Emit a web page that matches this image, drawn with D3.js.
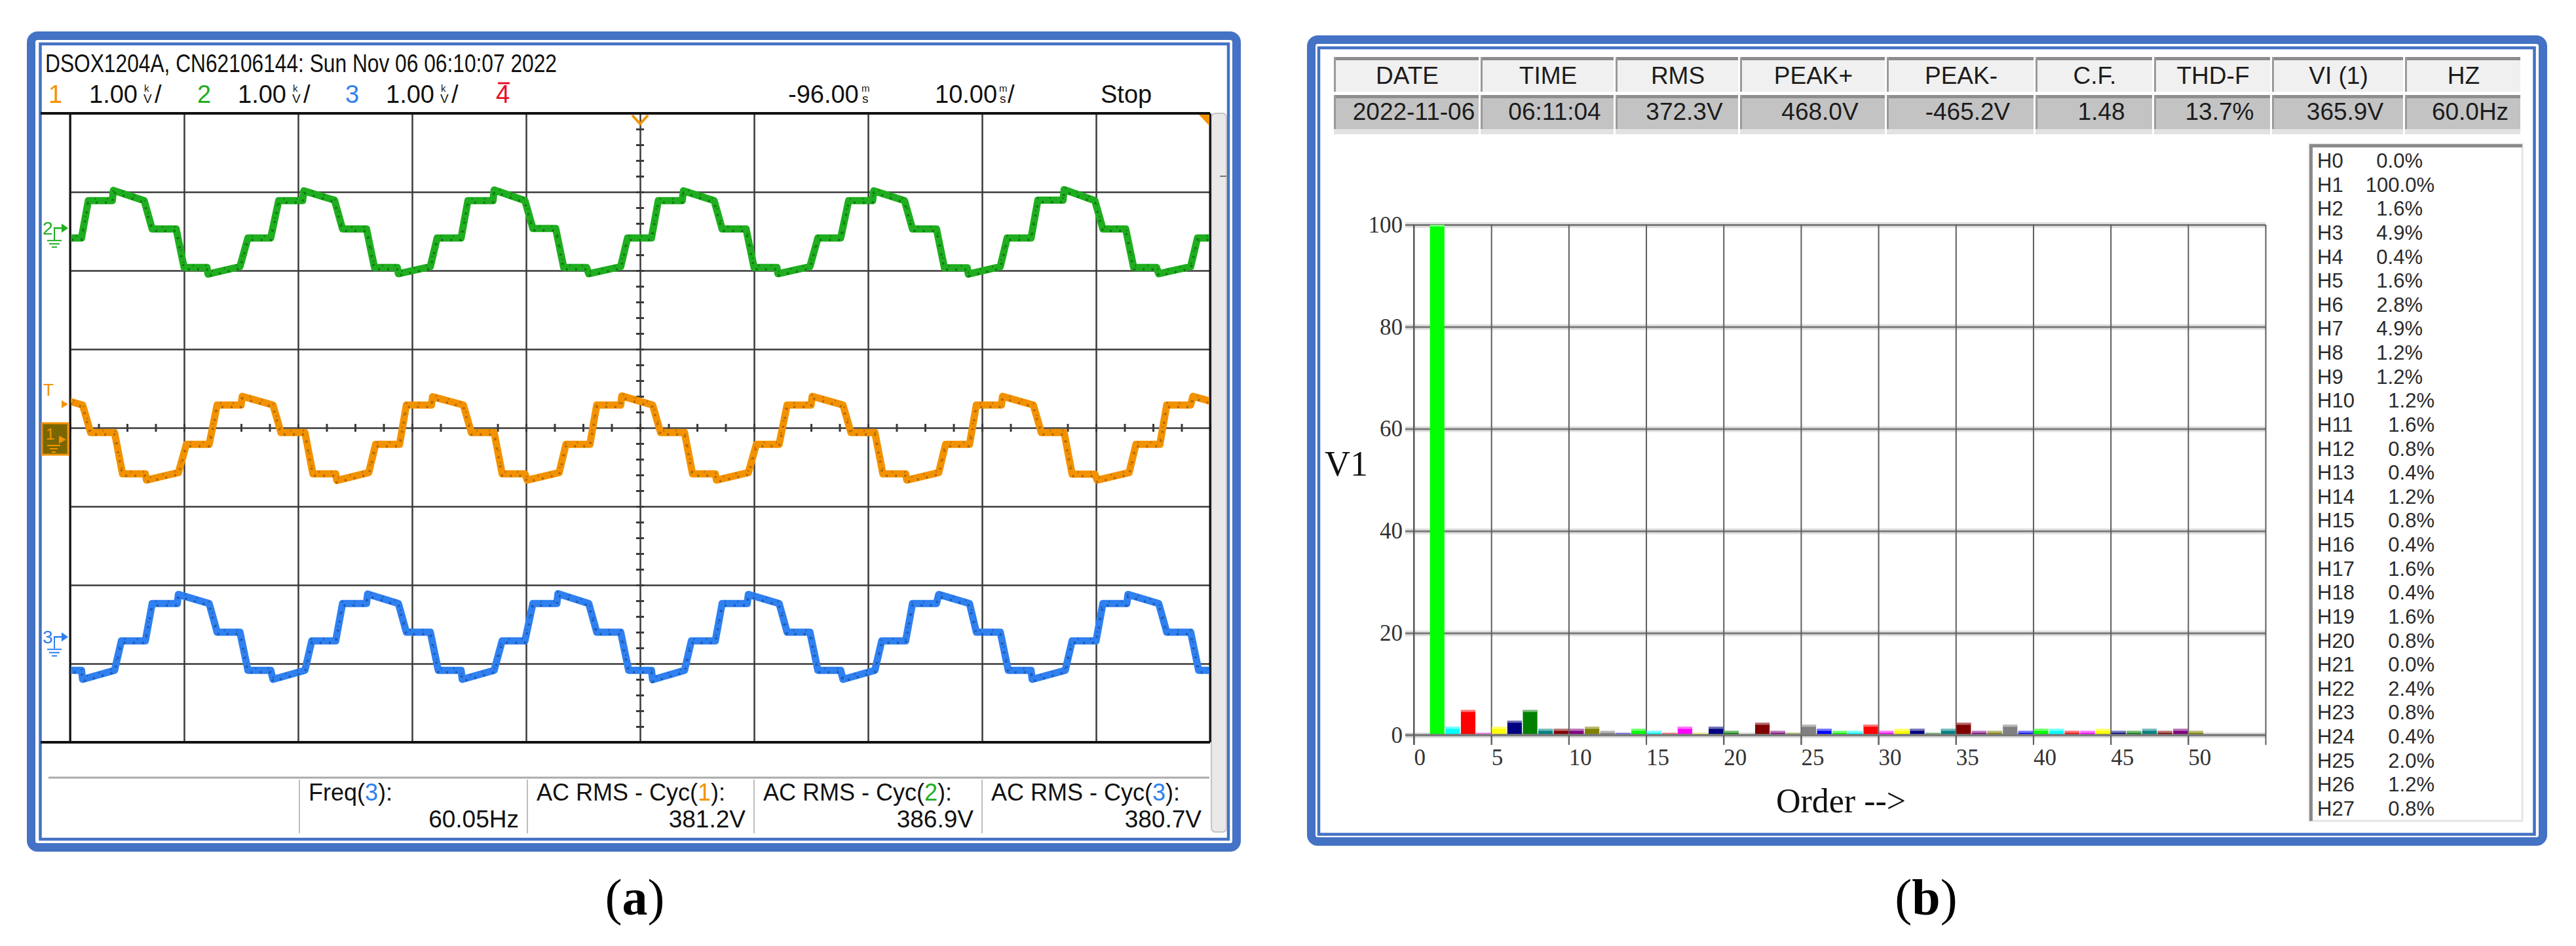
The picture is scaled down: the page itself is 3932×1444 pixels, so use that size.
<!DOCTYPE html>
<html><head><meta charset="utf-8">
<script src="https://cdn.jsdelivr.net/npm/d3@7"></script>
<style>
body{margin:0;background:#fff}
svg{display:block;font-family:"Liberation Sans",Arial,sans-serif}
</style>
</head><body>
<svg id="c" width="3932" height="1444" font-family="Liberation Sans, Arial, sans-serif"></svg>
<script>
// ---------------- DATA ----------------
const scopeTitle = "DSOX1204A, CN62106144: Sun Nov 06 06:10:07 2022";
const channelIds = ["1", "2", "3"];
const channelScales = ["1.00", "1.00", "1.00"];
const timeOffsetLabel = "-96.00";
const timeScaleLabel = "10.00";
const runStateLabel = "Stop";
const measNames = [["Freq(", "3", "):"], ["AC RMS - Cyc(", "1", "):"], ["AC RMS - Cyc(", "2", "):"], ["AC RMS - Cyc(", "3", "):"]];
const measValues = ["60.05Hz", "381.2V", "386.9V", "380.7V"];
// time window of the scope screen (ms) and vertical range (V, 1 kV/div)
const timeWindow = [-146, -46];
const voltWindow = [-4000, 4000];
// channel display offsets (V)
const ch1Offset = -150, ch2Offset = 2540, ch3Offset = -2660;
// traces [time ms, volts]
const ch2Trace = [
 [-161.7,-125],[-161.1,350],[-158.9,350],[-158.8,475],[-156.1,350],[-155.4,-10],[-153.4,-10],[-152.7,-500],[-150.7,-500],[-150.5,-580],[-147.7,-490],[-147.1,-125],
 [-145.0,-125],[-144.4,350],[-142.3,350],[-142.2,480],[-139.5,350],[-138.8,-10],[-136.7,-10],[-136.0,-500],[-134.0,-500],[-133.9,-585],[-131.1,-490],[-130.4,-125],
 [-128.4,-125],[-127.7,350],[-125.6,350],[-125.5,475],[-122.8,355],[-122.1,-10],[-120.0,-10],[-119.3,-500],[-117.3,-500],[-117.2,-580],[-114.4,-490],[-113.8,-125],
 [-111.7,-125],[-111.1,350],[-108.9,350],[-108.8,485],[-106.1,350],[-105.4,-5],[-103.4,-5],[-102.7,-500],[-100.7,-500],[-100.5,-580],[-97.7,-490],[-97.1,-125],
 [-95.0,-125],[-94.4,350],[-92.3,350],[-92.2,475],[-89.5,350],[-88.8,-10],[-86.7,-10],[-86.0,-500],[-84.0,-500],[-83.9,-580],[-81.1,-490],[-80.4,-125],
 [-78.4,-125],[-77.7,350],[-75.6,350],[-75.5,475],[-72.8,350],[-72.1,-10],[-70.0,-10],[-69.3,-505],[-67.3,-505],[-67.2,-585],[-64.4,-490],[-63.8,-125],
 [-61.7,-125],[-61.1,355],[-58.9,355],[-58.8,490],[-56.1,350],[-55.4,-10],[-53.4,-10],[-52.7,-500],[-50.7,-500],[-50.5,-580],[-47.7,-490],[-47.1,-125],
 [-45.0,-125],[-44.4,350]
];
const ch1Trace = [
 [-150.4,-60],[-149.8,440],[-147.7,440],[-147.6,550],[-144.9,440],[-144.2,90],[-142.1,90],[-141.4,-435],[-139.4,-435],[-139.3,-515],[-136.5,-420],[-135.8,-60],
 [-133.8,-60],[-133.1,440],[-131.0,440],[-130.9,550],[-128.2,440],[-127.5,90],[-125.4,90],[-124.7,-435],[-122.7,-435],[-122.6,-520],[-119.8,-420],[-119.2,-60],
 [-117.1,-60],[-116.5,440],[-114.3,440],[-114.2,545],[-111.5,440],[-110.8,90],[-108.8,90],[-108.1,-435],[-106.1,-435],[-105.9,-515],[-103.1,-420],[-102.5,-60],
 [-100.4,-60],[-99.8,440],[-97.7,440],[-97.6,555],[-94.9,440],[-94.2,90],[-92.1,90],[-91.4,-435],[-89.4,-435],[-89.3,-515],[-86.5,-420],[-85.8,-60],
 [-83.8,-60],[-83.1,440],[-81.0,440],[-80.9,550],[-78.2,440],[-77.5,90],[-75.4,90],[-74.7,-435],[-72.7,-435],[-72.6,-515],[-69.8,-420],[-69.2,-60],
 [-67.1,-60],[-66.5,440],[-64.3,440],[-64.2,550],[-61.5,440],[-60.8,90],[-58.8,90],[-58.1,-440],[-56.1,-440],[-55.9,-515],[-53.1,-420],[-52.5,-60],
 [-50.4,-60],[-49.8,440],[-47.7,440],[-47.5,550],[-44.8,440]
];
const ch3Trace = [
 [-156.1,-50],[-155.4,425],[-153.3,425],[-153.2,540],[-150.5,425],[-149.8,60],[-147.7,60],[-147.0,-425],[-145.0,-425],[-144.9,-540],[-142.1,-425],[-141.5,-50],
 [-139.4,-50],[-138.8,425],[-136.6,425],[-136.5,540],[-133.8,425],[-133.1,60],[-131.1,60],[-130.4,-425],[-128.4,-425],[-128.2,-540],[-125.4,-425],[-124.8,-50],
 [-122.7,-50],[-122.1,425],[-120.0,425],[-119.9,545],[-117.2,425],[-116.5,60],[-114.4,60],[-113.7,-425],[-111.7,-425],[-111.6,-540],[-108.8,-425],[-108.1,-50],
 [-106.1,-50],[-105.4,425],[-103.3,425],[-103.2,550],[-100.5,425],[-99.8,60],[-97.7,60],[-97.0,-425],[-95.0,-425],[-94.9,-545],[-92.1,-425],[-91.5,-50],
 [-89.4,-50],[-88.8,425],[-86.6,425],[-86.5,540],[-83.8,425],[-83.1,60],[-81.1,60],[-80.4,-425],[-78.4,-425],[-78.2,-540],[-75.4,-425],[-74.8,-50],
 [-72.7,-50],[-72.1,425],[-70.0,425],[-69.8,540],[-67.1,425],[-66.5,60],[-64.4,60],[-63.7,-425],[-61.7,-425],[-61.6,-540],[-58.7,-425],[-58.1,-50],
 [-56.0,-50],[-55.4,425],[-53.3,425],[-53.2,540],[-50.5,425],[-49.8,60],[-47.7,60],[-47.0,-425],[-45.0,-425],[-44.9,-540]
];
// analyser panel
const tableHeaders = ["DATE", "TIME", "RMS", "PEAK+", "PEAK-", "C.F.", "THD-F", "VI (1)", "HZ"];
const tableValues = ["2022-11-06", "06:11:04", "372.3V", "468.0V", "-465.2V", "1.48", "13.7%", "365.9V", "60.0Hz"];
// harmonic order 0..50, % of fundamental
const harmonicPct = [0.0, 100.0, 1.6, 4.9, 0.4, 1.6, 2.8, 4.9, 1.2, 1.2, 1.2, 1.6, 0.8, 0.4, 1.2, 0.8, 0.4, 1.6, 0.4, 1.6, 0.8, 0.0, 2.4, 0.8, 0.4, 2.0, 1.2, 0.8,
  0.8, 2.0, 0.8, 1.2, 1.2, 0.4, 1.2, 2.4, 0.8, 0.8, 2.0, 0.8, 1.2, 1.2, 0.8, 0.8, 1.2, 0.8, 0.8, 1.2, 0.8, 1.2, 0.8];
const harmonicListCount = 28;
const barPalette = ["#00ff00", "#00ffff", "#ff0000", "#ff00ff", "#ffff00", "#000080", "#008000", "#008080", "#800000", "#800080", "#808000", "#808080", "#0000ff"];
const yTicksB = [0, 20, 40, 60, 80, 100];
const xTicksB = [0, 5, 10, 15, 20, 25, 30, 35, 40, 45, 50, 55];
const yLabelB = "V1";
const xLabelB = "Order -->";
const captions = ["a", "b"];

// ---------------- DRAW ----------------
const SERIF = '"Liberation Serif", "Times New Roman", serif';
const SANS = '"Liberation Sans", Arial, sans-serif';
const svg = d3.select("#c");
svg.append("rect").attr("width", 3932).attr("height", 1444).attr("fill", "#fff");
const BLUE = "#4472c4";
function frame(ox, oy, ow, oh, ix, iy, iw, ih) {
  svg.append("rect").attr("x", ox).attr("y", oy).attr("width", ow).attr("height", oh)
    .attr("rx", 10).attr("fill", "#fff").attr("stroke", BLUE).attr("stroke-width", 13);
  svg.append("rect").attr("x", ix).attr("y", iy).attr("width", iw).attr("height", ih)
    .attr("fill", "none").attr("stroke", BLUE).attr("stroke-width", 4.5);
}
frame(47.5, 54.5, 1840, 1239, 61.5, 67, 1813.5, 1214);
frame(2001.5, 60.5, 1880, 1224, 2013, 73, 1855.5, 1200.5);

// ===== Panel (a): oscilloscope =====
const A = svg.append("g").style("font-family", SANS);
const xA = d3.scaleLinear().domain(timeWindow).range([107, 1847]);
const yA = d3.scaleLinear().domain(voltWindow).range([1133, 173]);
const ORANGE = "#f39200", GREEN = "#1fae1f", BLUEC = "#2f80f0", RED = "#e8102a";

// header
A.append("text").attr("x", 69).attr("y", 110).attr("font-size", 38).attr("fill", "#111")
  .attr("textLength", 781).attr("lengthAdjust", "spacingAndGlyphs").text(scopeTitle);
const chColors = [ORANGE, GREEN, BLUEC];
const chX = [74, 301, 527];
channelIds.forEach((id, i) => {
  const x0 = chX[i];
  A.append("text").attr("x", x0).attr("y", 157).attr("font-size", 38).attr("fill", chColors[i]).text(id);
  A.append("text").attr("x", x0 + 62).attr("y", 157).attr("font-size", 38).attr("fill", "#111").text(channelScales[i]);
  A.append("text").attr("x", x0 + 146).attr("y", 140).attr("font-size", 15).attr("fill", "#111").text("k");
  A.append("text").attr("x", x0 + 145).attr("y", 157).attr("font-size", 19).attr("fill", "#111").text("V");
  A.append("text").attr("x", x0 + 162).attr("y", 157).attr("font-size", 38).attr("fill", "#111").text("/");
});
A.append("text").attr("x", 757).attr("y", 157).attr("font-size", 38).attr("fill", RED).text("4");
A.append("line").attr("x1", 760).attr("x2", 778).attr("y1", 127).attr("y2", 127).attr("stroke", RED).attr("stroke-width", 3);
A.append("text").attr("x", 1203).attr("y", 157).attr("font-size", 38).attr("fill", "#111").text(timeOffsetLabel);
A.append("text").attr("x", 1315).attr("y", 140).attr("font-size", 15).attr("fill", "#111").text("m");
A.append("text").attr("x", 1316).attr("y", 157).attr("font-size", 19).attr("fill", "#111").text("s");
A.append("text").attr("x", 1427).attr("y", 157).attr("font-size", 38).attr("fill", "#111").text(timeScaleLabel);
A.append("text").attr("x", 1525).attr("y", 140).attr("font-size", 15).attr("fill", "#111").text("m");
A.append("text").attr("x", 1526).attr("y", 157).attr("font-size", 19).attr("fill", "#111").text("s");
A.append("text").attr("x", 1538).attr("y", 157).attr("font-size", 38).attr("fill", "#111").text("/");
A.append("text").attr("x", 1680).attr("y", 157).attr("font-size", 38).attr("fill", "#111").text(runStateLabel);

// scrollbar strip
A.append("rect").attr("x", 1849).attr("y", 173).attr("width", 23).attr("height", 1097).attr("rx", 6)
  .attr("fill", "#e9e9e9").attr("stroke", "#c4c4c4").attr("stroke-width", 2);
A.append("line").attr("x1", 1862).attr("x2", 1872).attr("y1", 269).attr("y2", 269).attr("stroke", "#777").attr("stroke-width", 2);

// graticule via axes
const gx = A.append("g").attr("transform", "translate(0,1133)")
  .call(d3.axisBottom(xA).tickValues(d3.range(timeWindow[0], timeWindow[1] + 1, 10)).tickSize(-960).tickFormat(""));
const gy = A.append("g").attr("transform", "translate(107,0)")
  .call(d3.axisLeft(yA).tickValues(d3.range(voltWindow[0], voltWindow[1] + 1, 1000)).tickSize(-1740).tickFormat(""));
[gx, gy].forEach(g => {
  g.select(".domain").remove();
  g.selectAll(".tick line").attr("stroke", "#3a3a3a").attr("stroke-width", 2.5);
});
// minor ticks on the centre cross
const cxv = xA(-96), cyv = yA(0);
A.append("g").attr("transform", `translate(${cxv},0)`)
  .call(d3.axisLeft(yA).tickValues(d3.range(voltWindow[0], voltWindow[1] + 1, 200)).tickSize(6).tickFormat(""))
  .call(g => { g.select(".domain").remove(); g.selectAll(".tick line").attr("stroke", "#3a3a3a").attr("stroke-width", 3).attr("x2", 6).attr("x1", -6); });
A.append("g").attr("transform", `translate(0,${cyv})`)
  .call(d3.axisBottom(xA).tickValues(d3.range(timeWindow[0], timeWindow[1] + 0.1, 2.5)).tickSize(6).tickFormat(""))
  .call(g => { g.select(".domain").remove(); g.selectAll(".tick line").attr("stroke", "#3a3a3a").attr("stroke-width", 3).attr("y1", -6).attr("y2", 6); });
// frame lines
A.append("line").attr("x1", 62).attr("x2", 1847).attr("y1", 173).attr("y2", 173).attr("stroke", "#111").attr("stroke-width", 4);
A.append("line").attr("x1", 62).attr("x2", 1847).attr("y1", 1133).attr("y2", 1133).attr("stroke", "#111").attr("stroke-width", 4);
A.append("line").attr("x1", 107).attr("x2", 107).attr("y1", 173).attr("y2", 1133).attr("stroke", "#111").attr("stroke-width", 3);
A.append("line").attr("x1", 1847).attr("x2", 1847).attr("y1", 173).attr("y2", 1133).attr("stroke", "#111").attr("stroke-width", 3);

// traces
svg.append("clipPath").attr("id", "scr").append("rect").attr("x", 108).attr("y", 175).attr("width", 1738).attr("height", 956);
const traces = [
  {d: ch2Trace, off: ch2Offset, c: GREEN, dk: "#0b6a0b"},
  {d: ch1Trace, off: ch1Offset, c: ORANGE, dk: "#a05c00"},
  {d: ch3Trace, off: ch3Offset, c: BLUEC, dk: "#1a4f9c"}
];
const TG = A.append("g").attr("clip-path", "url(#scr)");
traces.forEach(t => {
  const line = d3.line().x(d => xA(d[0])).y(d => yA(d[1] + t.off));
  TG.append("path").attr("d", line(t.d)).attr("fill", "none").attr("stroke", t.c)
    .attr("stroke-width", 11).attr("stroke-linejoin", "round");
  TG.append("path").attr("d", line(t.d)).attr("fill", "none").attr("stroke", t.dk)
    .attr("stroke-width", 3.5).attr("stroke-dasharray", "3 11").attr("transform", "translate(0,3)").attr("opacity", 0.8);
  TG.append("path").attr("d", line(t.d)).attr("fill", "none").attr("stroke", t.dk)
    .attr("stroke-width", 3).attr("stroke-dasharray", "2 17").attr("stroke-dashoffset", 7).attr("transform", "translate(0,-3)").attr("opacity", 0.6);
});

// trigger markers
A.append("polyline").attr("points", `${cxv - 12},176 ${cxv},189 ${cxv + 12},176`).attr("fill", "none").attr("stroke", ORANGE).attr("stroke-width", 4);
A.append("polygon").attr("points", "1830,175 1846,175 1846,192").attr("fill", ORANGE);

// channel ground markers on the left
function marker(label, color, v, ground) {
  const y = yA(v);
  A.append("text").attr("x", 65).attr("y", y + 10).attr("font-size", 28).attr("fill", color).text(label);
  A.append("polygon").attr("points", `${94},${y - 7} ${104},${y} ${94},${y + 7}`).attr("fill", color);
  A.append("line").attr("x1", 82).attr("x2", 96).attr("y1", y).attr("y2", y).attr("stroke", color).attr("stroke-width", 2.5);
  if (ground) {
    A.append("line").attr("x1", 83).attr("x2", 83).attr("y1", y).attr("y2", y + 18).attr("stroke", color).attr("stroke-width", 2);
    [[72, 94, 19], [75, 91, 24], [79, 87, 29]].forEach(s => A.append("line").attr("x1", s[0]).attr("x2", s[1]).attr("y1", y + s[2]).attr("y2", y + s[2]).attr("stroke", color).attr("stroke-width", 2));
  }
}
marker("2", GREEN, ch2Offset, true);
marker("3", BLUEC, ch3Offset, true);
// channel 1 (selected) marker box and trigger level T
A.append("text").attr("x", 66).attr("y", 604).attr("font-size", 26).attr("fill", ORANGE).text("T");
A.append("polygon").attr("points", "94,611 104,617 94,623").attr("fill", ORANGE);
A.append("rect").attr("x", 64).attr("y", 646).attr("width", 40).attr("height", 48).attr("fill", "#7a6600").attr("stroke", ORANGE).attr("stroke-width", 3);
A.append("text").attr("x", 70).attr("y", 671).attr("font-size", 24).attr("fill", ORANGE).text("1");
A.append("polygon").attr("points", `90,${yA(ch1Offset) - 6} 101,${yA(ch1Offset)} 90,${yA(ch1Offset) + 6}`).attr("fill", ORANGE);
[[72, 92, 680], [76, 88, 685], [79, 85, 690]].forEach(s => A.append("line").attr("x1", s[0]).attr("x2", s[1]).attr("y1", s[2]).attr("y2", s[2]).attr("stroke", ORANGE).attr("stroke-width", 2));

// measurement area
A.append("line").attr("x1", 74).attr("x2", 1846).attr("y1", 1187).attr("y2", 1187).attr("stroke", "#ababab").attr("stroke-width", 3);
const measCol = [[457, 805], [805, 1151], [1151, 1499], [1499, 1847]];
const measIdColor = {"1": ORANGE, "2": GREEN, "3": BLUEC};
measCol.forEach((c, i) => {
  A.append("line").attr("x1", c[0]).attr("x2", c[0]).attr("y1", 1190).attr("y2", 1272).attr("stroke", "#bdbdbd").attr("stroke-width", 2);
  const t = A.append("text").attr("x", c[0] + 14).attr("y", 1222).attr("font-size", 36).attr("fill", "#111");
  t.append("tspan").text(measNames[i][0]);
  t.append("tspan").attr("fill", measIdColor[measNames[i][1]]).text(measNames[i][1]);
  t.append("tspan").text(measNames[i][2]);
  A.append("text").attr("x", c[1] - 13).attr("y", 1263).attr("font-size", 37).attr("text-anchor", "end").attr("fill", "#111").text(measValues[i]);
});

// ===== Panel (b): harmonic analyser =====
const B = svg.append("g").style("font-family", SANS);
const colEdges = [2036, 2260, 2466, 2656, 2880, 3107, 3288, 3468, 3671, 3850];
tableHeaders.forEach((h, i) => {
  const x0 = colEdges[i], x1 = colEdges[i + 1];
  B.append("rect").attr("x", x0).attr("y", 87).attr("width", x1 - x0 - 3).attr("height", 53).attr("fill", "#f0f0f0");
  B.append("rect").attr("x", x0).attr("y", 87).attr("width", x1 - x0 - 3).attr("height", 5).attr("fill", "#8c8c8c");
  B.append("rect").attr("x", x0).attr("y", 87).attr("width", 3).attr("height", 53).attr("fill", "#9a9a9a");
  B.append("text").attr("x", (x0 + x1) / 2).attr("y", 128).attr("text-anchor", "middle").attr("font-size", 37).attr("fill", "#1c1c1c").text(h);
  B.append("rect").attr("x", x0).attr("y", 145).attr("width", x1 - x0 - 3).attr("height", 52).attr("fill", "#c3c3c3");
  B.append("rect").attr("x", x0).attr("y", 145).attr("width", x1 - x0 - 3).attr("height", 5).attr("fill", "#8e8e8e");
  B.append("rect").attr("x", x0).attr("y", 145).attr("width", 3).attr("height", 52).attr("fill", "#9a9a9a");
  B.append("rect").attr("x", x0).attr("y", 197).attr("width", x1 - x0 - 3).attr("height", 8).attr("fill", "#e2e2e2");
  B.append("text").attr("x", (x0 + x1) / 2 + 10).attr("y", 183).attr("text-anchor", "middle").attr("font-size", 37).attr("fill", "#1c1c1c").text(tableValues[i]);
});

// harmonic list box
B.append("rect").attr("x", 3525).attr("y", 220).attr("width", 325).attr("height", 1033).attr("fill", "#fff").attr("stroke", "#e4e4e4").attr("stroke-width", 3);
B.append("rect").attr("x", 3525).attr("y", 220).attr("width", 325).attr("height", 5).attr("fill", "#8a8a8a");
B.append("rect").attr("x", 3525).attr("y", 220).attr("width", 5).attr("height", 1033).attr("fill", "#8a8a8a");
const listRow = d3.scaleLinear().domain([0, harmonicListCount - 1]).range([245, 1234]);
harmonicPct.slice(0, harmonicListCount).forEach((v, i) => {
  const lab = "H" + i, val = v.toFixed(1) + "%";
  const y = listRow(i) + 11;
  B.append("text").attr("x", 3537).attr("y", y).attr("font-size", 31).attr("fill", "#2a2a2a").text(lab);
  const xr = (lab.length > 2 || val.length > 4) ? 3716 : 3698;
  B.append("text").attr("x", xr).attr("y", y).attr("font-size", 31).attr("text-anchor", "end").attr("fill", "#2a2a2a").text(val);
});

// bar chart
const xB = d3.scaleLinear().domain([0, 55]).range([2158, 3458]);
const yB = d3.scaleLinear().domain([0, 100]).range([1122, 343]);
const hg = B.append("g").attr("transform", "translate(2158,0)")
  .call(d3.axisLeft(yB).tickValues(yTicksB).tickSize(-1300).tickFormat(""));
hg.select(".domain").remove();
hg.selectAll(".tick line").attr("stroke", "#e2e2e2").attr("stroke-width", 9).attr("x1", -13);
const hg2 = B.append("g").attr("transform", "translate(2158,0)")
  .call(d3.axisLeft(yB).tickValues(yTicksB).tickSize(-1300).tickFormat(""));
hg2.select(".domain").remove();
hg2.selectAll(".tick line").attr("stroke", "#7c7c7c").attr("stroke-width", 3).attr("x1", -13);
const vg = B.append("g").attr("transform", "translate(0,343)")
  .call(d3.axisTop(xB).tickValues(xTicksB).tickSize(-794).tickFormat(""));
vg.select(".domain").remove();
vg.selectAll(".tick line").attr("stroke", "#5e5e5e").attr("stroke-width", 2);
const orders = d3.range(1, harmonicPct.length);
const bw = xB(1) - xB(0);
const barsG = B.append("g");
orders.forEach(n => {
  const v = harmonicPct[n];
  if (v <= 0) return;
  const col = barPalette[(n - 1) % barPalette.length];
  const x0 = xB(n) + 1, w = bw - 1.5;
  const yt = yB(v), h = yB(0) - yt;
  barsG.append("rect").attr("x", x0).attr("y", yt).attr("width", w).attr("height", h).attr("fill", col);
  barsG.append("rect").attr("x", x0).attr("y", yt).attr("width", w).attr("height", Math.min(3, h))
    .attr("fill", d3.interpolateRgb(col, "#ffffff")(0.45));
});
B.append("line").attr("x1", 2145).attr("x2", 3458).attr("y1", yB(0)).attr("y2", yB(0)).attr("stroke", "#7c7c7c").attr("stroke-width", 3.5);
B.append("line").attr("x1", 2158).attr("x2", 2158).attr("y1", 343).attr("y2", 1137).attr("stroke", "#555").attr("stroke-width", 2);
const yAx = B.append("g").attr("transform", "translate(2143,0)")
  .call(d3.axisLeft(yB).tickValues(yTicksB).tickSize(0).tickPadding(2));
yAx.select(".domain").remove();
yAx.selectAll("text").style("font-family", SERIF).attr("font-size", 35).attr("fill", "#333");
const xAx = B.append("g").attr("transform", "translate(0,1122)")
  .call(d3.axisBottom(xB).tickValues(xTicksB.filter(d => d <= 50)).tickSize(15).tickPadding(6));
xAx.select(".domain").remove();
xAx.selectAll(".tick line").attr("stroke", "#5e5e5e").attr("stroke-width", 2);
xAx.selectAll("text").style("font-family", SERIF).attr("font-size", 35)
  .attr("fill", "#333").attr("text-anchor", "start").attr("dx", 0);
B.append("text").attr("x", 2022).attr("y", 726).style("font-family", SERIF)
  .attr("font-size", 54).attr("fill", "#111").text(yLabelB);
B.append("text").attr("x", 2810).attr("y", 1240).attr("text-anchor", "middle").style("font-family", SERIF)
  .attr("font-size", 52).attr("fill", "#111").text(xLabelB);

// captions
[[969, captions[0]], [2940, captions[1]]].forEach(c => {
  const t = svg.append("text").attr("x", c[0]).attr("y", 1396).attr("text-anchor", "middle")
    .style("font-family", SERIF).attr("font-size", 78).attr("fill", "#000");
  t.append("tspan").text("(");
  t.append("tspan").attr("font-weight", "bold").text(c[1]);
  t.append("tspan").text(")");
});
</script>
</body></html>
